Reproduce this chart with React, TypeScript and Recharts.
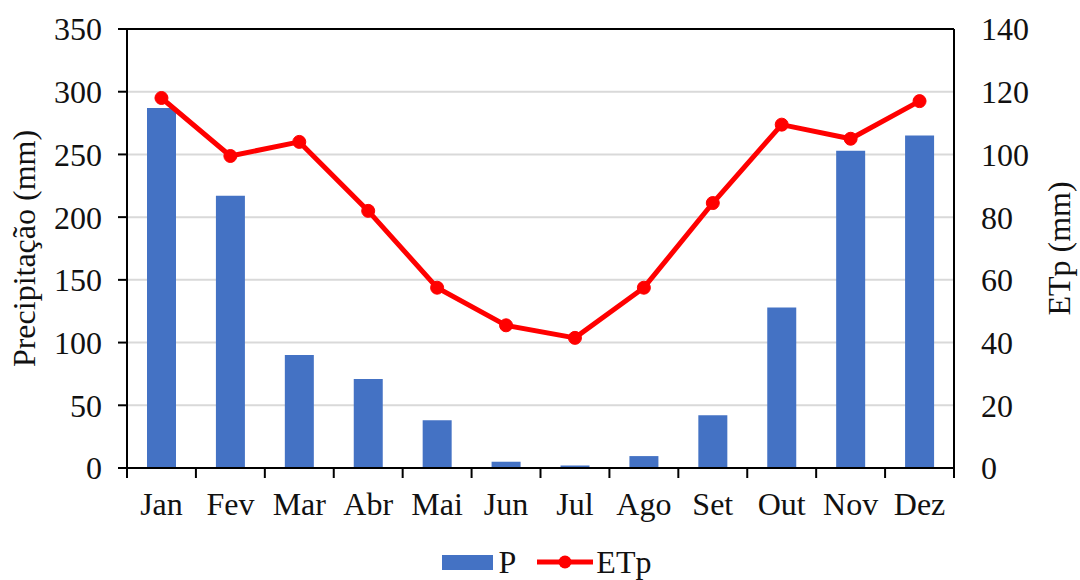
import React from "react";
import {
  ComposedChart,
  Bar,
  Line,
  XAxis,
  YAxis,
  CartesianGrid,
  Legend,
  Label,
  ReferenceLine,
} from "recharts";

const months = ["Jan", "Fev", "Mar", "Abr", "Mai", "Jun", "Jul", "Ago", "Set", "Out", "Nov", "Dez"];
const precip = [287, 217, 90, 71, 38, 5, 2, 9.5, 42, 128, 253, 265];
const etp = [118, 99.5, 104, 82, 57.5, 45.5, 41.5, 57.5, 84.5, 109.5, 105, 117];
const leftTicks = [0, 50, 100, 150, 200, 250, 300, 350];
const rightTicks = [0, 20, 40, 60, 80, 100, 120, 140];

const data = months.map((m, i) => ({ month: m, P: precip[i], ETp: etp[i] }));

const FONT = '"Liberation Serif", "Times New Roman", serif';
const FS = 32;
const TXT = "#111";
const BLUE = "#4472C4";
const RED = "#FF0000";
const X_TICK = 9;
const X_MARGIN = 15;

if (typeof document !== "undefined") document.body.style.margin = "0";

const MonthTick = (props: any) => {
  const { x, y, payload, index } = props;
  const half = payload && payload.offset ? payload.offset : 34.5;
  const top = y - X_TICK - X_MARGIN;
  return (
    <g>
      <line x1={x - half} x2={x - half} y1={top} y2={top + X_TICK + 1} stroke="#000" strokeWidth={2} />
      {index === months.length - 1 && (
        <line x1={x + half} x2={x + half} y1={top} y2={top + X_TICK + 1} stroke="#000" strokeWidth={2} />
      )}
      <text x={x} y={y} dy="0.71em" textAnchor="middle" fontFamily={FONT} fontSize={FS} fill={TXT}>
        {payload.value}
      </text>
    </g>
  );
};

const AxisTitle = (text: string, dxBase: number) => (props: any) => {
  const vb = props.viewBox || { x: 0, y: 29, width: 127, height: 439 };
  const cx = vb.x + dxBase;
  const cy = vb.y + vb.height / 2;
  return (
    <text
      x={cx}
      y={cy}
      transform={`rotate(-90 ${cx} ${cy})`}
      textAnchor="middle"
      fontFamily={FONT}
      fontSize={FS}
      fill={TXT}
    >
      {text}
    </text>
  );
};

const LegendContent = () => (
  <div
    style={{
      display: "flex",
      justifyContent: "center",
      alignItems: "center",
      height: 36,
      fontFamily: FONT,
      fontSize: FS,
      color: TXT,
      paddingLeft: 13,
    }}
  >
    <span style={{ display: "inline-block", width: 51, height: 15, background: BLUE, marginRight: 6 }} />
    <span style={{ marginRight: 21, lineHeight: "34px" }}>P</span>
    <svg width={56} height={16} style={{ marginRight: 3 }}>
      <line x1={0} x2={56} y1={8} y2={8} stroke={RED} strokeWidth={5} />
      <circle cx={28} cy={8} r={6.5} fill={RED} />
    </svg>
    <span style={{ lineHeight: "34px" }}>ETp</span>
  </div>
);

export default function App() {
  return (
    <div style={{ width: 1080, height: 580, background: "#fff" }}>
      <ComposedChart width={1080} height={580} data={data} margin={{ top: 29, right: 0, left: 0, bottom: 0 }}>
        <CartesianGrid yAxisId="left" vertical={false} stroke="#D9D9D9" strokeWidth={2} />
        <XAxis
          dataKey="month"
          height={76}
          axisLine={{ stroke: "#000", strokeWidth: 2 }}
          tickLine={false}
          tickSize={X_TICK}
          tickMargin={X_MARGIN}
          tick={<MonthTick />}
          interval={0}
        />
        <YAxis
          yAxisId="left"
          width={127}
          domain={[0, 350]}
          ticks={leftTicks}
          interval={0}
          axisLine={{ stroke: "#000", strokeWidth: 2 }}
          tickLine={{ stroke: "#000", strokeWidth: 2 }}
          tickSize={9}
          tickMargin={16}
          tick={{ fontFamily: FONT, fontSize: FS, fill: TXT }}
        >
          <Label content={AxisTitle("Precipitação (mm)", 35)} />
        </YAxis>
        <YAxis
          yAxisId="right"
          orientation="right"
          width={126}
          domain={[0, 140]}
          ticks={rightTicks}
          interval={0}
          axisLine={{ stroke: "#000", strokeWidth: 2 }}
          tickLine={false}
          tickSize={0}
          tickMargin={27}
          tick={{ fontFamily: FONT, fontSize: FS, fill: TXT, textAnchor: "start" }}
        >
          <Label content={AxisTitle("ETp (mm)", 116)} />
        </YAxis>
        <ReferenceLine yAxisId="left" y={350} stroke="#000" strokeWidth={2} />
        <Legend verticalAlign="bottom" content={<LegendContent />} />
        <Bar yAxisId="left" dataKey="P" name="P" fill={BLUE} barSize={29} isAnimationActive={false} />
        <Line
          yAxisId="right"
          dataKey="ETp"
          name="ETp"
          type="linear"
          stroke={RED}
          strokeWidth={5}
          dot={{ r: 6.5, fill: RED, stroke: RED, strokeWidth: 1 }}
          activeDot={false}
          isAnimationActive={false}
        />
      </ComposedChart>
    </div>
  );
}
